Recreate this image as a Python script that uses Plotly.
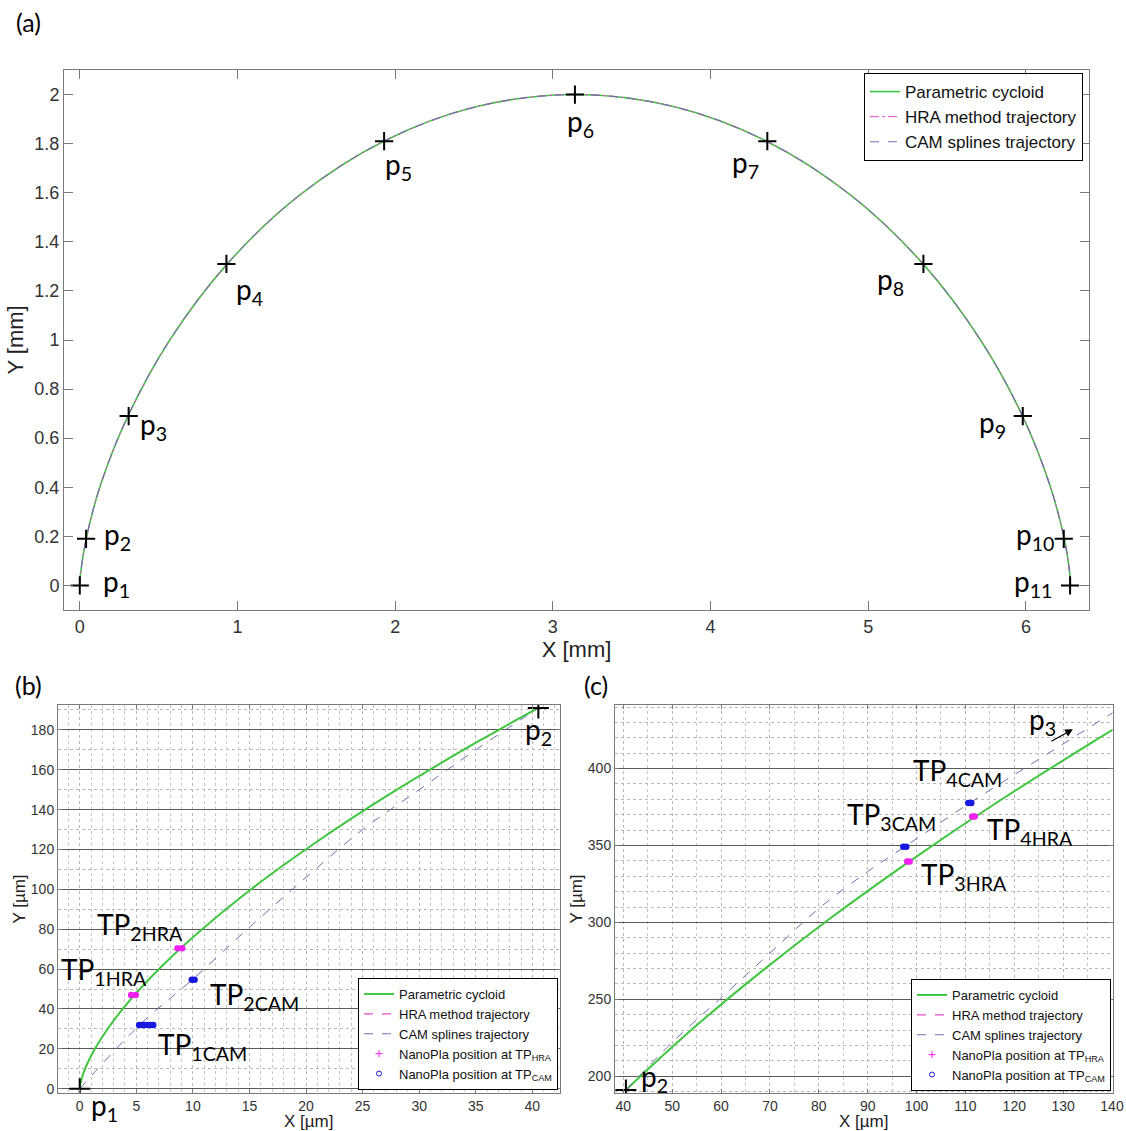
import plotly.graph_objects as go

# ---------------- data ----------------
# (a) cycloid arch, mm
cyc_a_x = [0, 0.0006, 0.005, 0.041, 0.133, 0.306, 0.571, 0.934, 1.390, 1.925, 2.518, 3.142,
           3.765, 4.358, 4.893, 5.349, 5.712, 5.978, 6.150, 6.243, 6.278, 6.2825, 6.283]
cyc_a_y = [0, 0.012, 0.049, 0.191, 0.412, 0.691, 1.0, 1.309, 1.588, 1.809, 1.951, 2.0,
           1.951, 1.809, 1.588, 1.309, 1.0, 0.691, 0.412, 0.191, 0.049, 0.012, 0]

# target points p1..p11, mm
p_x = [0, 0.04, 0.31, 0.93, 1.93, 3.14, 4.36, 5.35, 5.98, 6.24, 6.28]
p_y = [0, 0.19, 0.69, 1.31, 1.81, 2.0, 1.81, 1.31, 0.69, 0.19, 0]
p_names = ["p<sub>%d</sub>" % i for i in range(1, 12)]

# (b) segment p1 -> p2, um
cyc_b_x = [0, 0.02, 0.17, 0.56, 1.33, 2.60, 4.48, 7.10, 10.58, 15.03, 20.57, 27.31, 35.36, 40.53]
cyc_b_y = [0, 1.25, 5.0, 11.2, 19.9, 31.1, 44.7, 60.6, 78.9, 99.6, 122.4, 147.5, 174.7, 191.0]
cam_b_x = [0, 5.2, 10.0, 15.0, 20.0, 25.0, 30.0, 35.0, 40.53]
cam_b_y = [0, 31.5, 55.0, 81.0, 106.0, 130.0, 150.0, 170.0, 191.0]
nano_hra_b_x = [4.55, 4.95, 8.65, 9.05]
nano_hra_b_y = [47.0, 47.0, 70.5, 70.5]
nano_cam_b_x = [5.25, 5.5, 5.75, 6.0, 6.25, 6.5, 9.9, 10.15]
nano_cam_b_y = [32.0, 32.0, 32.0, 32.0, 32.0, 32.0, 54.7, 54.7]
pts_b_x = [0, 40.53]
pts_b_y = [0, 191.0]

# (c) segment p2 -> p3, um
cyc_c_x = [40.53, 44.81, 55.78, 68.36, 82.64, 98.72, 116.67, 136.58, 140.81]
cyc_c_y = [191.0, 203.9, 235.2, 268.3, 303.3, 340.0, 378.4, 418.3, 426.5]
cam_c_x = [40.53, 50.0, 60.0, 70.0, 80.0, 90.0, 97.6, 110.9, 125.0, 140.0, 142.0]
cam_c_y = [191.0, 222.0, 251.0, 280.0, 309.0, 333.0, 349.2, 377.6, 406.0, 436.0, 440.0]
nano_hra_c_x = [98.1, 98.6, 111.4, 111.9]
nano_hra_c_y = [339.6, 339.6, 368.9, 368.9]
nano_cam_c_x = [97.3, 97.9, 110.6, 111.2]
nano_cam_c_y = [349.2, 349.2, 377.6, 377.6]
pts_c_x = [40.53]
pts_c_y = [191.0]

# ---------------- styles ----------------
GREEN = "#3fc83f"
HRA_COL = "#e050c8"
CAM_COL = "#7070b0"
DOT_MAG = "#f020f0"
DOT_BLUE = "#1818e0"
AX_COL = "#7a7a7a"
TICK_FONT = "Liberation Sans, Arial, sans-serif"
LABEL_FONT = "Lato, Carlito, sans-serif"

fig = go.Figure()


def curve(x, y, name, color, dash, width, xa, ya, legend, rank, show=True):
    fig.add_trace(go.Scatter(
        x=x, y=y, name=name, mode="lines",
        line=dict(color=color, dash=dash, width=width, shape="spline", smoothing=1.0),
        xaxis=xa, yaxis=ya, legend=legend, legendrank=rank, showlegend=show))


def nano(x, y, name, color, legend_symbol, xa, ya, legend, rank):
    # the dwell positions, drawn as small filled dots
    fig.add_trace(go.Scatter(
        x=x, y=y, mode="markers", marker=dict(symbol="circle", size=6.5, color=color),
        xaxis=xa, yaxis=ya, showlegend=False, hoverinfo="x+y"))
    # legend entry
    fig.add_trace(go.Scatter(
        x=[None], y=[None], name=name, mode="markers",
        marker=dict(symbol=legend_symbol, size=5, color=color, line=dict(color=color, width=1)),
        xaxis=xa, yaxis=ya, legend=legend, legendrank=rank))


def crosses(x, y, xa, ya, size):
    fig.add_trace(go.Scatter(
        x=x, y=y, mode="markers",
        marker=dict(symbol="cross-thin", size=size, line=dict(color="black", width=2)),
        xaxis=xa, yaxis=ya, showlegend=False))


# (a)
curve(cyc_a_x, cyc_a_y, "Parametric cycloid", GREEN, "solid", 1.6, "x", "y", "legend", 1)
curve(cyc_a_x, cyc_a_y, "HRA method trajectory", HRA_COL, "dashdot", 1.0, "x", "y", "legend", 2)
curve(cyc_a_x, cyc_a_y, "CAM splines trajectory", CAM_COL, "dash", 1.0, "x", "y", "legend", 3)
crosses(p_x, p_y, "x", "y", 13)

# (b)
curve(cyc_b_x, cyc_b_y, "HRA method trajectory", HRA_COL, "dash", 1.2, "x2", "y2", "legend2", 2)
curve(cyc_b_x, cyc_b_y, "Parametric cycloid", GREEN, "solid", 2.0, "x2", "y2", "legend2", 1)
curve(cam_b_x, cam_b_y, "CAM splines trajectory", CAM_COL, "dash", 1.0, "x2", "y2", "legend2", 3)
nano(nano_hra_b_x, nano_hra_b_y, "NanoPla position at TP<sub>HRA</sub>", DOT_MAG, "cross-thin",
     "x2", "y2", "legend2", 4)
nano(nano_cam_b_x, nano_cam_b_y, "NanoPla position at TP<sub>CAM</sub>", DOT_BLUE, "circle-open",
     "x2", "y2", "legend2", 5)
crosses(pts_b_x, pts_b_y, "x2", "y2", 15)

# (c)
curve(cyc_c_x, cyc_c_y, "HRA method trajectory", HRA_COL, "dash", 1.2, "x3", "y3", "legend3", 2)
curve(cyc_c_x, cyc_c_y, "Parametric cycloid", GREEN, "solid", 2.0, "x3", "y3", "legend3", 1)
curve(cam_c_x, cam_c_y, "CAM splines trajectory", CAM_COL, "dash", 1.0, "x3", "y3", "legend3", 3)
nano(nano_hra_c_x, nano_hra_c_y, "NanoPla position at TP<sub>HRA</sub>", DOT_MAG, "cross-thin",
     "x3", "y3", "legend3", 4)
nano(nano_cam_c_x, nano_cam_c_y, "NanoPla position at TP<sub>CAM</sub>", DOT_BLUE, "circle-open",
     "x3", "y3", "legend3", 5)
crosses(pts_c_x, pts_c_y, "x3", "y3", 15)


# ---------------- axes ----------------
def axis(domain, rng, dtick, title, tfont, ttl_size, ticklen, standoff, anchor, grid=None, minor=None):
    d = dict(domain=domain, range=rng, dtick=dtick, tick0=0, anchor=anchor,
             showline=True, linecolor=AX_COL, linewidth=1, mirror="ticks",
             ticks="inside", ticklen=ticklen, tickcolor=AX_COL, tickwidth=1,
             zeroline=False, showgrid=False, automargin=False,
             tickfont=dict(family=TICK_FONT, size=tfont, color="#333333"),
             title=dict(text=title, standoff=standoff,
                        font=dict(family=TICK_FONT, size=ttl_size, color="#222222")))
    if grid:
        d.update(grid)
    if minor:
        d["minor"] = minor
    return d


W, H = 1126.0, 1131.0
dom_a_x = [64 / W, 1089 / W]
dom_a_y = [1 - 610 / H, 1 - 70 / H]
dom_b_x = [58 / W, 559.5 / W]
dom_c_x = [615 / W, 1112.5 / W]
dom_bc_y = [1 - 1093 / H, 1 - 705 / H]

solid_grid = dict(showgrid=True, gridcolor="#5a5a5a", gridwidth=1)
dot_grid = dict(showgrid=True, gridcolor="#b8b8b8", gridwidth=1, griddash="dot")

fig.update_layout(
    xaxis=axis(dom_a_x, [-0.1, 6.4], 1, "X [mm]", 18, 22, 9, 0, "y"),
    yaxis=axis(dom_a_y, [-0.1, 2.1], 0.2, "Y [mm]", 18, 22, 9, 4, "x"),
    xaxis2=axis(dom_b_x, [-1.92, 42.4], 5, "X [µm]", 14, 17, 4, 0, "y2", dot_grid,
                dict(dtick=1, showgrid=True, gridcolor="#c8c8c8", griddash="dot", ticks="")),
    yaxis2=axis(dom_bc_y, [-2.15, 192.5], 20, "Y [µm]", 14, 17, 4, 0, "x2", solid_grid,
                dict(dtick=10, showgrid=True, gridcolor="#b8b8b8", griddash="dot", ticks="")),
    xaxis3=axis(dom_c_x, [38.3, 140.1], 10, "X [µm]", 14, 17, 4, 0, "y3", dot_grid,
                dict(dtick=5, showgrid=True, gridcolor="#c8c8c8", griddash="dot", ticks="")),
    yaxis3=axis(dom_bc_y, [189.1, 441.3], 50, "Y [µm]", 14, 17, 4, 0, "x3", solid_grid,
                dict(dtick=10, showgrid=True, gridcolor="#b8b8b8", griddash="dot", ticks="")),
)


def legend_box(x, y, size, anchor):
    return dict(x=x, y=y, xanchor="right", yanchor=anchor,
                bgcolor="white", bordercolor="black", borderwidth=1,
                font=dict(family=TICK_FONT, size=size, color="#111111"),
                tracegroupgap=0, itemwidth=30, traceorder="normal")


fig.update_layout(
    width=1126, height=1131,
    margin=dict(l=0, r=0, t=0, b=0),
    paper_bgcolor="white", plot_bgcolor="white",
    legend=legend_box(1083 / W, 1 - 73 / H, 17, "top"),
    legend2=legend_box(558 / W, 1 - 1090 / H, 13, "bottom"),
    legend3=legend_box(1111 / W, 1 - 1091 / H, 13, "bottom"),
)

# ---------------- labels ----------------
anns = []
# p labels in (a), offset from each point in pixels
p_shift = [(37, 2), (31, 3), (25, -10), (23, -27), (14, -25), (6, -28),
           (-22, -23), (-33, -17), (-30, -8), (-29, 3), (-37, 2)]
for name, x, y, (dx, dy) in zip(p_names, p_x, p_y, p_shift):
    anns.append(dict(x=x, y=y, xref="x", yref="y", text=name, showarrow=False,
                     xshift=dx, yshift=dy, font=dict(family=LABEL_FONT, size=28, color="black")))

big = dict(family=LABEL_FONT, size=28, color="black")
# (b)
for text, x, y, dx, dy in [
    ("p<sub>1</sub>", pts_b_x[0], pts_b_y[0], 25, -18),
    ("p<sub>2</sub>", pts_b_x[1], pts_b_y[1], 0, -23),
    ("TP<sub>2HRA</sub>", 8.85, 70.5, -40, 22),
    ("TP<sub>1HRA</sub>", 4.75, 47.0, -29, 24),
    ("TP<sub>2CAM</sub>", 10.0, 55.0, 62, -17),
    ("TP<sub>1CAM</sub>", 5.9, 32.0, 56, -21),
]:
    anns.append(dict(x=x, y=y, xref="x2", yref="y2", text=text, showarrow=False,
                     xshift=dx, yshift=dy, font=big))
# (c)
for text, x, y, dx, dy in [
    ("p<sub>2</sub>", pts_c_x[0], pts_c_y[0], 29, 12),
    ("TP<sub>3CAM</sub>", 97.6, 349.2, -13, 31),
    ("TP<sub>4CAM</sub>", 110.9, 377.6, -12, 31),
    ("TP<sub>3HRA</sub>", 98.4, 339.6, 55, -15),
    ("TP<sub>4HRA</sub>", 111.7, 368.9, 56, -15),
    ("p<sub>3</sub>", 132.0, 425.6, -30, 8),
]:
    anns.append(dict(x=x, y=y, xref="x3", yref="y3", text=text, showarrow=False,
                     xshift=dx, yshift=dy, font=big))
# direction towards p3
anns.append(dict(x=132.0, y=425.6, xref="x3", yref="y3", text="", showarrow=True,
                 ax=-23, ay=13, arrowhead=2, arrowsize=1.3, arrowwidth=1.2, arrowcolor="black"))

# panel letters
for text, px, py in [("(a)", 28, 22), ("(b)", 28, 685), ("(c)", 596, 685)]:
    anns.append(dict(x=px / W, y=1 - py / H, xref="paper", yref="paper", text=text,
                     showarrow=False, xanchor="center", yanchor="middle",
                     font=dict(family=LABEL_FONT, size=25, color="black")))

fig.update_layout(annotations=anns)

fig.write_html("out.html")
